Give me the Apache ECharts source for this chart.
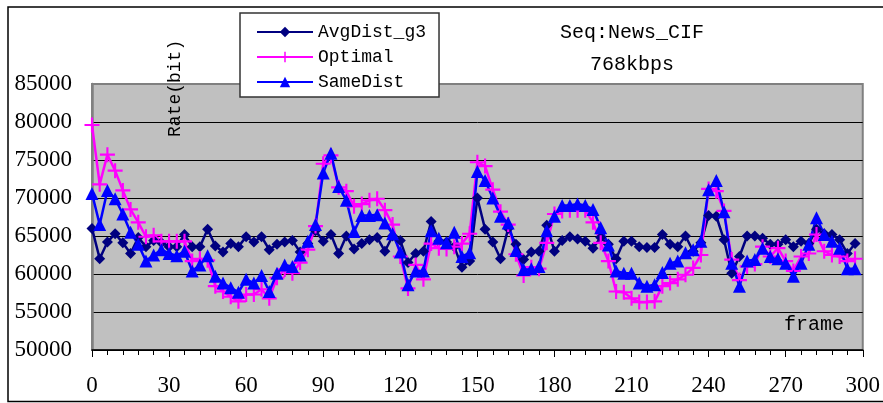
<!DOCTYPE html>
<html>
<head>
<meta charset="utf-8">
<script src="https://cdn.jsdelivr.net/npm/echarts@6/dist/echarts.min.js"></script>
<style>
html,body{margin:0;padding:0;background:#fff;}
#main{width:883px;height:403px;}
</style>
</head>
<body>
<div id="main"></div>
<script>
// frames sampled every 3rd frame
var frames = [0,3,6,9,12,15,18,21,24,27,30,33,36,39,42,45,48,51,54,57,
    60,63,66,69,72,75,78,81,84,87,90,93,96,99,102,105,108,111,114,117,
    120,123,126,129,132,135,138,141,144,147,150,153,156,159,162,165,168,171,174,177,
    180,183,186,189,192,195,198,201,204,207,210,213,216,219,222,225,228,231,234,237,
    240,243,246,249,252,255,258,261,264,267,270,273,276,279,282,285,288,291,294,297];

var avgDist = [66000,62000,64200,65300,64100,62700,64800,63600,64400,64100,
    63600,63600,65200,63600,63600,65900,63700,62900,64000,63600,
    64900,64200,64900,63200,63900,64200,64400,62900,64000,65700,
    64300,65200,62700,65000,63300,64000,64500,64800,63000,65000,
    64400,61500,62700,63000,66900,64300,64200,63600,60900,61700,
    70000,65900,64200,62000,66000,63900,61900,62900,63000,66400,
    63000,64400,64900,64600,64300,63400,64800,63900,62000,64300,
    64300,63600,63500,63500,65200,63900,63600,65000,63000,64100,
    67700,67600,64500,60100,62300,65000,65000,64700,63900,63900,
    64500,63600,64300,64000,65900,65300,65200,64500,62700,64000];

var optimal = [79600,71800,75700,73600,71000,68500,66800,64900,65100,64300,
    64300,64300,64300,61700,62000,61800,58400,57700,57000,56400,
    57300,57300,58000,56800,59500,60600,60100,61500,63200,66300,
    74500,75600,71400,70900,68900,69200,69700,69900,68400,66500,
    62300,58100,61200,59300,64000,63400,63300,63600,64000,65300,
    74700,74200,71100,68200,66500,62600,59800,60900,60700,64100,
    67900,68300,68400,68400,68400,66800,64100,61700,57700,57600,
    56800,56300,56300,56400,58400,58800,59300,59900,60800,62500,
    71200,70900,68300,61900,59200,61000,61300,63600,62300,63400,
    61700,60400,62300,62700,65200,63000,62500,62300,61700,62000];

var sameDist = [70600,66500,71000,69900,67900,65500,63900,61700,62500,63200,
    62700,62400,63000,60400,61200,62400,59700,58800,58200,57600,
    59300,58800,59800,57700,60100,61200,61000,62500,64300,66500,
    73300,75900,71500,69700,65600,67700,67700,67800,66700,65300,
    62900,58600,60400,60400,65700,64700,64100,65500,62300,62800,
    73500,72300,70000,67600,66700,63100,60600,60700,61000,65700,
    67600,69000,69000,69200,69000,68500,66100,63800,60400,60100,
    60100,58800,58400,58600,60200,61400,61700,62800,63200,64300,
    71100,72300,68200,61400,58400,61700,61900,63400,62300,62000,
    61400,59700,61400,63900,67400,65200,64300,63400,60700,60700];

var seriesNames = ['AvgDist_g3', 'Optimal', 'SameDist'];

function pairs(vals) {
    var out = [];
    for (var i = 0; i < vals.length; i++) {
        out.push([frames[i], vals[i]]);
    }
    return out;
}

var plusPath = 'path://M6,0H8V6H14V8H8V14H6V8H0V6H6Z';
var serifFont = '"Liberation Serif", "Times New Roman", serif';
var monoFont = '"Liberation Mono", "DejaVu Sans Mono", monospace';

var myChart = echarts.init(document.getElementById('main'));

myChart.setOption({
    backgroundColor: '#fff',
    animation: false,
    grid: {
        left: 92, right: 20, top: 84, bottom: 53,
        show: true,
        backgroundColor: '#C0C0C0',
        borderColor: '#808080',
        borderWidth: 2
    },
    legend: {
        data: seriesNames,
        orient: 'vertical',
        left: 240, top: 13,
        padding: [10, 13, 6, 16],
        itemGap: 7,
        itemWidth: 56,
        itemHeight: 13,
        backgroundColor: '#fff',
        borderColor: '#333',
        borderWidth: 1.5,
        textStyle: { fontFamily: monoFont, fontSize: 18, color: '#000' }
    },
    xAxis: {
        type: 'value',
        min: 0, max: 300, interval: 30,
        axisLine: { lineStyle: { color: '#000', width: 1.5 } },
        axisTick: { show: true, length: 7, lineStyle: { color: '#000' } },
        minorTick: { show: true, splitNumber: 5, length: 5, lineStyle: { color: '#000' } },
        splitLine: { show: false },
        axisLabel: { fontFamily: serifFont, fontSize: 23, color: '#000', margin: 24 }
    },
    yAxis: {
        type: 'value',
        min: 50000, max: 85000, interval: 5000,
        axisLine: { show: true, lineStyle: { color: '#808080', width: 2.5 } },
        axisTick: { show: false },
        splitLine: { lineStyle: { color: ['#000','#000','#000','#000','#000','#000','#000','#808080'], width: 1 } },
        axisLabel: {
            fontFamily: serifFont, fontSize: 23, color: '#000', margin: 20,
            formatter: function (v) { return String(v); }
        }
    },
    series: [
        {
            name: seriesNames[0], type: 'line', data: pairs(avgDist),
            symbol: 'diamond', symbolSize: 11,
            color: '#000080',
            lineStyle: { color: '#000080', width: 2.5 },
            itemStyle: { color: '#000080' }
        },
        {
            name: seriesNames[1], type: 'line', data: pairs(optimal),
            symbol: plusPath, symbolSize: 15,
            color: '#FF00FF',
            lineStyle: { color: '#FF00FF', width: 2.5 },
            itemStyle: { color: '#FF00FF' }
        },
        {
            name: seriesNames[2], type: 'line', data: pairs(sameDist),
            symbol: 'triangle', symbolSize: 13,
            color: '#0000FF',
            lineStyle: { color: '#0000FF', width: 2.5 },
            itemStyle: { color: '#0000FF' }
        }
    ],
    graphic: [
        // outer chart border
        { type: 'rect', shape: { x: 8, y: 7, width: 900, height: 394.5 },
          style: { fill: 'none', stroke: '#000', lineWidth: 1.5 }, z: 0, silent: true },
        { type: 'text', x: 632, y: 33,
          style: { text: 'Seq:News_CIF', font: '20px ' + monoFont, fill: '#000', textAlign: 'center', textVerticalAlign: 'middle' }, z: 10 },
        { type: 'text', x: 632, y: 65,
          style: { text: '768kbps', font: '20px ' + monoFont, fill: '#000', textAlign: 'center', textVerticalAlign: 'middle' }, z: 10 },
        { type: 'text', x: 175, y: 137, rotation: Math.PI / 2,
          style: { text: 'Rate(bit)', font: '18px ' + monoFont, fill: '#000', textAlign: 'left', textVerticalAlign: 'middle' }, z: 10 },
        { type: 'text', x: 814, y: 325,
          style: { text: 'frame', font: '20px ' + monoFont, fill: '#000', textAlign: 'center', textVerticalAlign: 'middle' }, z: 10 }
    ]
});
</script>
</body>
</html>
